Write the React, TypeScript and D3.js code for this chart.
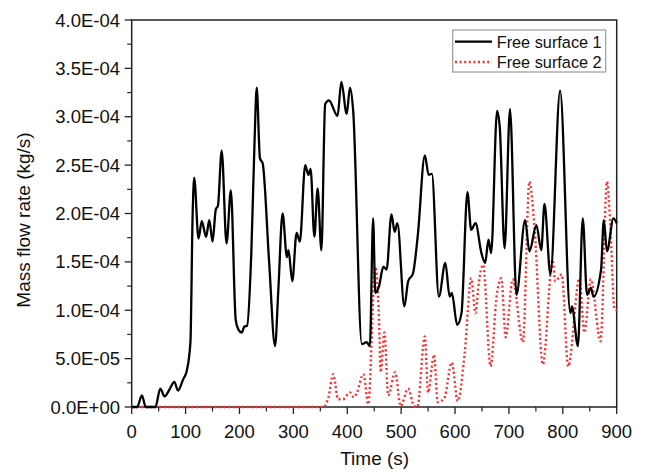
import React from "react";
import * as d3 from "d3";

// Time (s) and mass flow rate (x1e-4 kg/s)
const fs1Time = [0, 10, 19, 26, 44, 53, 61, 70, 79, 86, 95, 102, 109, 113, 116, 124, 130, 138, 144, 150, 156, 160, 167, 176, 184, 193, 198, 204, 209, 214, 222, 228, 232, 238, 243, 255, 266, 272, 280, 288, 291, 298, 306, 312, 322, 328, 332, 339, 345, 352, 359, 366, 382, 389, 399, 405, 411, 427, 436, 442, 448, 452, 459, 467, 473, 482, 488, 493, 506, 513, 522, 531, 544, 551, 557, 570, 582, 590, 594, 604, 612, 623, 630, 638, 649, 656, 662, 667, 678, 683, 692, 702, 714, 730, 738, 751, 760, 766, 777, 795, 814, 817, 828, 837, 845, 852, 857, 871, 876, 882, 894, 900];
const fs1Value = [0, 0, 0.12, 0, 0, 0.19, 0.11, 0.18, 0.26, 0.17, 0.28, 0.37, 0.67, 1.97, 2.37, 1.74, 1.92, 1.76, 1.93, 1.71, 2.04, 2.08, 2.65, 1.69, 2.24, 0.9, 0.8, 0.77, 0.83, 0.84, 1.6, 2.75, 3.3, 2.57, 2.52, 1.5, 0.63, 1.2, 2.0, 1.55, 1.62, 1.3, 1.8, 1.71, 2.5, 2.4, 2.46, 1.76, 2.26, 1.62, 3.13, 3.17, 3.01, 3.36, 3.03, 3.3, 3.06, 0.65, 0.67, 0.63, 1.95, 1.18, 1.25, 1.45, 1.42, 1.99, 1.81, 1.9, 1.04, 1.3, 1.38, 1.78, 2.6, 2.4, 2.41, 1.14, 1.49, 1.14, 1.18, 0.85, 0.97, 2.22, 1.83, 1.9, 1.59, 1.49, 1.73, 1.59, 3.06, 2.89, 1.64, 3.08, 1.16, 1.93, 1.61, 1.88, 1.62, 2.1, 1.37, 3.27, 0.97, 1.04, 0.63, 1.95, 1.16, 1.23, 1.14, 1.42, 1.93, 1.61, 1.95, 1.9];

const fs2Time = [0, 356, 365, 374, 383, 392, 405, 412, 418, 430, 439, 452, 459, 462, 469, 476, 489, 499, 513, 524, 530, 544, 550, 561, 568, 580, 594, 605, 618, 630, 638, 644, 652, 666, 677, 686, 694, 707, 726, 738, 747, 763, 781, 786, 798, 810, 831, 840, 852, 870, 882, 888, 896, 900];
const fs2Value = [0, 0, 0.1, 0.34, 0.08, 0.08, 0.15, 0.1, 0.15, 0.34, 0.03, 1.45, 0.9, 0.36, 0.77, 0.12, 0.36, 0.01, 0.19, 0.01, 0, 0.73, 0.15, 0.54, 0.05, 0.09, 0.46, 0.06, 0.56, 1.33, 0.97, 1.28, 1.47, 0.42, 1.14, 1.33, 0.72, 1.32, 0.67, 2.33, 1.9, 0.44, 1.52, 1.3, 1.37, 0.42, 1.33, 0.77, 1.32, 0.68, 2.33, 1.9, 1.01, 1.0];

const xTicks = [0, 100, 200, 300, 400, 500, 600, 700, 800, 900];
const xMinor = [50, 150, 250, 350, 450, 550, 650, 750, 850];
const yTicks = [0, 0.5e-4, 1.0e-4, 1.5e-4, 2.0e-4, 2.5e-4, 3.0e-4, 3.5e-4, 4.0e-4];
const yTickLabels = ["0.0E+00", "5.0E-05", "1.0E-04", "1.5E-04", "2.0E-04", "2.5E-04", "3.0E-04", "3.5E-04", "4.0E-04"];
const yMinor = [0.25e-4, 0.75e-4, 1.25e-4, 1.75e-4, 2.25e-4, 2.75e-4, 3.25e-4, 3.75e-4];
const seriesNames = ["Free surface 1", "Free surface 2"];

const W = 649, H = 474;
const L = 131.7, R = 616.7, T = 20, B = 407;
const FONT = "'Liberation Sans', Arial, sans-serif";

export default function App() {
  const x = d3.scaleLinear().domain([0, 900]).range([L, R]);
  const y = d3.scaleLinear().domain([0, 4e-4]).range([B, T]);
  const line = d3.line<[number, number]>()
    .x((d) => x(d[0]))
    .y((d) => Math.min(B, y(d[1] * 1e-4)))
    .curve(d3.curveMonotoneX);
  const d1 = line(fs1Time.map((t, i) => [t, fs1Value[i]] as [number, number])) || "";
  const d2 = line(fs2Time.map((t, i) => [t, fs2Value[i]] as [number, number])) || "";

  return (
    <svg width={W} height={H} style={{ position: "absolute", left: 0, top: 0, background: "#fff" }} fontFamily={FONT}>
      <rect x={0} y={0} width={W} height={H} fill="#fff" />
      <rect x={L} y={T} width={R - L} height={B - T} fill="none" stroke="#222" strokeWidth={1.5} />
      {xTicks.map((t, i) => (
        <g key={"xt" + i}>
          <line x1={x(t)} x2={x(t)} y1={B} y2={B + 7} stroke="#222" strokeWidth={1.3} />
          <text x={x(t)} y={437.5} fontSize={18.5} textAnchor="middle" fill="#111">{t}</text>
        </g>
      ))}
      {xMinor.map((t, i) => (
        <line key={"xm" + i} x1={x(t)} x2={x(t)} y1={B} y2={B + 4.5} stroke="#222" strokeWidth={1.2} />
      ))}
      {yTicks.map((v, i) => (
        <g key={"yt" + i}>
          <line x1={L - 7} x2={L} y1={y(v)} y2={y(v)} stroke="#222" strokeWidth={1.3} />
          <text x={120} y={y(v) + 6.5} fontSize={18.5} textAnchor="end" fill="#111">{yTickLabels[i]}</text>
        </g>
      ))}
      {yMinor.map((v, i) => (
        <line key={"ym" + i} x1={L - 4.5} x2={L} y1={y(v)} y2={y(v)} stroke="#222" strokeWidth={1.2} />
      ))}
      <path d={d2} fill="none" stroke="#ff2a2a" strokeWidth={2.4} strokeDasharray="2,2.6" />
      <path d={d1} fill="none" stroke="#000" strokeWidth={2.3} strokeLinejoin="round" />
      <text x={374.7} y={465} fontSize={19} textAnchor="middle" fill="#111">Time (s)</text>
      <text transform={`translate(30,220) rotate(-90)`} fontSize={19} textAnchor="middle" fill="#111">Mass flow rate (kg/s)</text>
      <g>
        <rect x={452.7} y={30} width={153} height={42} fill="#fff" stroke="#999" strokeWidth={1.2} />
        <line x1={455} x2={492} y1={41.7} y2={41.7} stroke="#000" strokeWidth={2.3} />
        <line x1={455} x2={492} y1={62} y2={62} stroke="#ff2a2a" strokeWidth={2.4} strokeDasharray="2,2.6" />
        <text x={496.7} y={47.5} fontSize={16.3} fill="#111">{seriesNames[0]}</text>
        <text x={496.7} y={67.8} fontSize={16.3} fill="#111">{seriesNames[1]}</text>
      </g>
    </svg>
  );
}
